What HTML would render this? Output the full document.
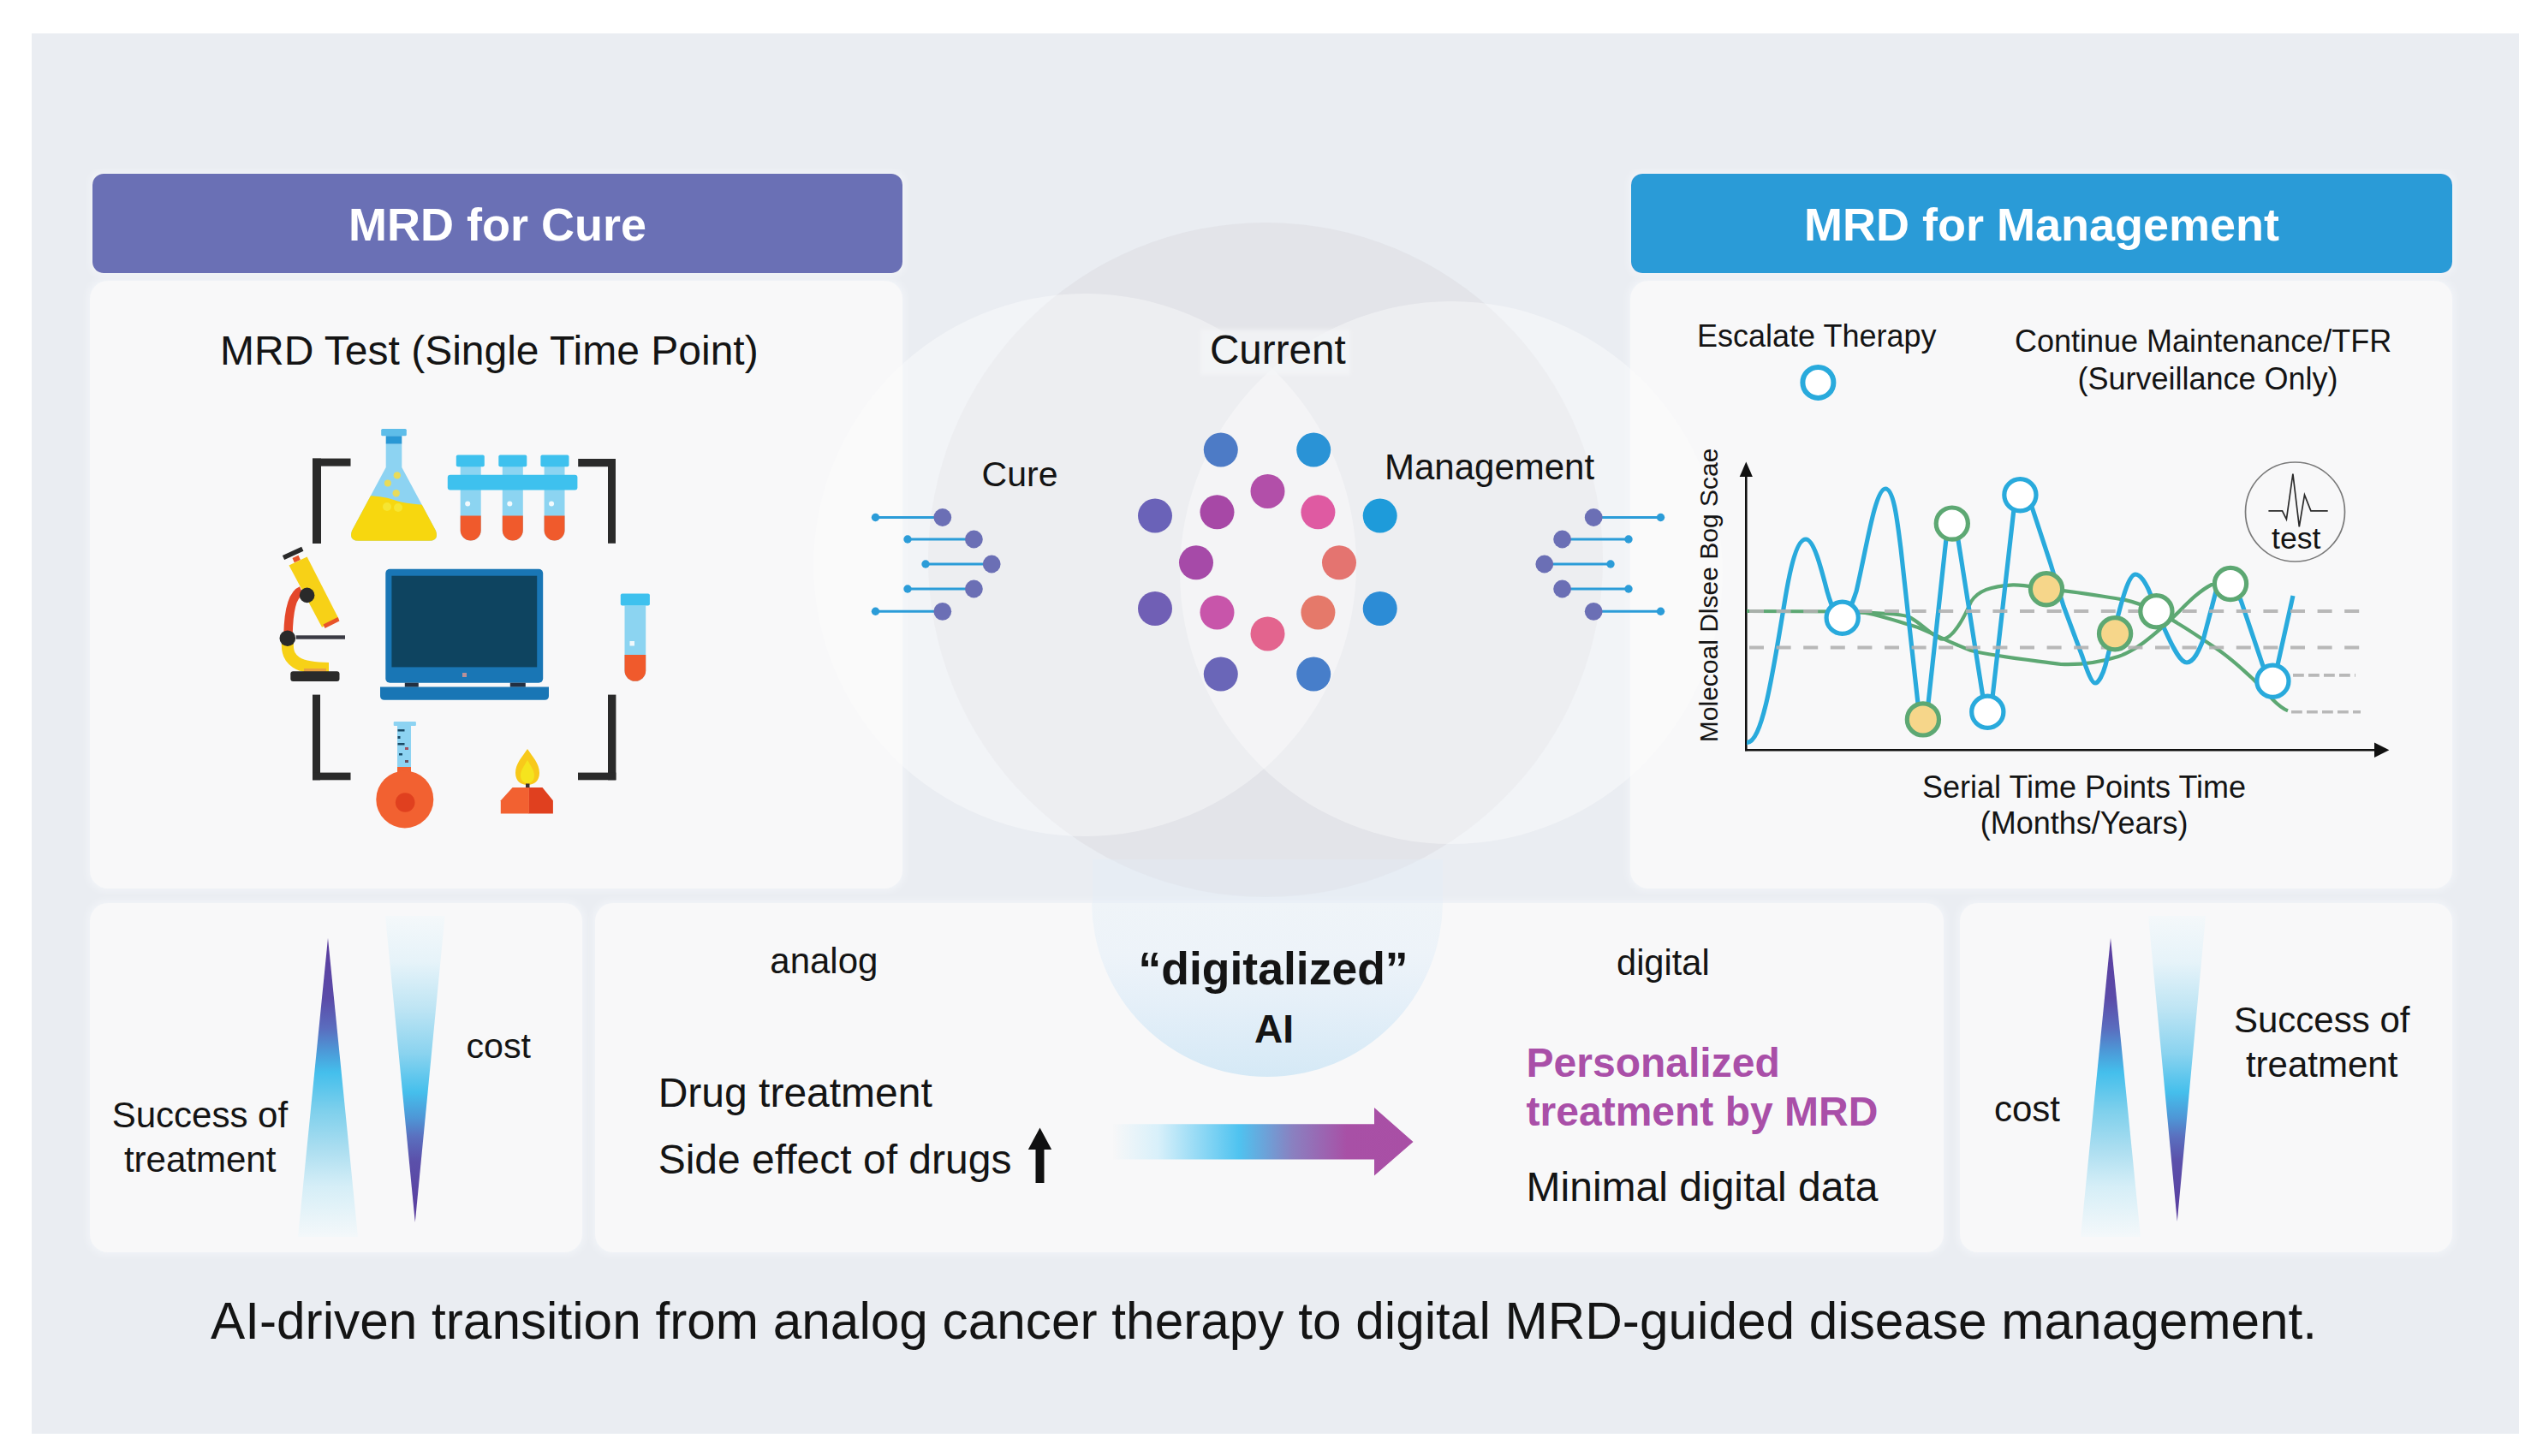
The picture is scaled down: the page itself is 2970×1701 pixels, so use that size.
<!DOCTYPE html>
<html><head><meta charset="utf-8"><title>MRD figure</title>
<style>html,body{margin:0;padding:0;background:#fff;}body{width:2970px;height:1701px;overflow:hidden;}svg{display:block;}</style>
</head><body>
<svg width="2970" height="1701" viewBox="0 0 2970 1701" font-family="Liberation Sans, Arial, sans-serif"><defs>
<filter id="cardsh" x="-5%" y="-5%" width="110%" height="110%"><feFlood flood-color="#F6F8FB" result="c"/><feMorphology in="SourceAlpha" operator="dilate" radius="2" result="d"/><feGaussianBlur in="d" stdDeviation="4" result="b"/><feComposite in="c" in2="b" operator="in" result="g"/><feComponentTransfer in="g" result="g2"><feFuncA type="linear" slope="0.7"/></feComponentTransfer><feMerge><feMergeNode in="g2"/><feMergeNode in="SourceGraphic"/></feMerge></filter>
<filter id="soften" x="0" y="0" width="2970" height="1701" filterUnits="userSpaceOnUse"><feGaussianBlur stdDeviation="0.5"/></filter>
<filter id="soft" x="-10%" y="-20%" width="120%" height="140%"><feGaussianBlur stdDeviation="2"/></filter>
<clipPath id="cardclipL"><rect x="105" y="328" width="949" height="710" rx="20"/></clipPath>
<clipPath id="cardclipR"><rect x="1904" y="328" width="960" height="710" rx="20"/></clipPath>
<clipPath id="aiclip"><rect x="1200" y="1055" width="600" height="300"/></clipPath>
<linearGradient id="aigrad" x1="0" y1="1055" x2="0" y2="1258" gradientUnits="userSpaceOnUse"><stop offset="0" stop-color="#EFF4F8"/><stop offset="0.3" stop-color="#EDF3F9"/><stop offset="0.6" stop-color="#E4EFF8"/><stop offset="1" stop-color="#D5E9F6"/></linearGradient>
<linearGradient id="gup" x1="0" y1="1096" x2="0" y2="1445" gradientUnits="userSpaceOnUse"><stop offset="0" stop-color="#5A3C9E"/><stop offset="0.2" stop-color="#5B4BA8"/><stop offset="0.3" stop-color="#5A6CBE"/><stop offset="0.38" stop-color="#4C9AD8"/><stop offset="0.45" stop-color="#44BFEC"/><stop offset="0.58" stop-color="#7FD0EC"/><stop offset="0.7" stop-color="#A9DDF0"/><stop offset="0.83" stop-color="#D5EEF7"/><stop offset="1" stop-color="#F4F8FA"/></linearGradient>
<linearGradient id="gdn" x1="0" y1="1070" x2="0" y2="1428" gradientUnits="userSpaceOnUse"><stop offset="0" stop-color="#F4F8FA"/><stop offset="0.15" stop-color="#E6F3F9"/><stop offset="0.3" stop-color="#BFE5F4"/><stop offset="0.45" stop-color="#8AD3EF"/><stop offset="0.575" stop-color="#45BFEC"/><stop offset="0.66" stop-color="#4E96D6"/><stop offset="0.72" stop-color="#5A70BF"/><stop offset="0.8" stop-color="#5B50AA"/><stop offset="1" stop-color="#5A3C9E"/></linearGradient>
<linearGradient id="garr" x1="1300" y1="0" x2="1650" y2="0" gradientUnits="userSpaceOnUse"><stop offset="0" stop-color="#F7F7F8"/><stop offset="0.15" stop-color="#D8F0FA"/><stop offset="0.42" stop-color="#4FC3F0"/><stop offset="0.6" stop-color="#8A80C0"/><stop offset="0.78" stop-color="#A850A6"/><stop offset="1" stop-color="#A94FA5"/></linearGradient>
</defs><g><rect x="0" y="0" width="2970" height="1701" fill="#ffffff"/>
<rect x="37" y="39" width="2905" height="1636" fill="#EAEDF2"/>
<circle cx="1478" cy="654" r="394" fill="#DCDDE2" fill-opacity="0.55"/>
<circle cx="1267" cy="660" r="317" fill="#FFFFFF" fill-opacity="0.38"/>
<circle cx="1695" cy="669" r="317" fill="#FFFFFF" fill-opacity="0.38"/>
<rect x="105" y="328" width="949" height="710" rx="21" fill="#F8F8F9" filter="url(#cardsh)"/>
<rect x="1904" y="328" width="960" height="710" rx="21" fill="#F8F8F9" filter="url(#cardsh)"/>
<rect x="105" y="1055" width="575" height="408" rx="21" fill="#F8F8F9" filter="url(#cardsh)"/>
<rect x="695" y="1055" width="1575" height="408" rx="21" fill="#F8F8F9" filter="url(#cardsh)"/>
<rect x="2289" y="1055" width="575" height="408" rx="21" fill="#F8F8F9" filter="url(#cardsh)"/>
<rect x="108" y="203" width="946" height="116" rx="13" fill="#6B6FB5" filter="url(#cardsh)"/>
<rect x="1905" y="203" width="959" height="116" rx="13" fill="#2A9BD7" filter="url(#cardsh)"/>
<text x="407.0" y="281.0" font-size="54" font-weight="700" fill="#FFFFFF" >MRD for Cure</text>
<text x="2107.0" y="280.5" font-size="54" font-weight="700" fill="#FFFFFF" >MRD for Management</text>
<circle cx="1267" cy="660" r="317" fill="#FFFFFF" fill-opacity="0.25" clip-path="url(#cardclipL)"/>
<circle cx="1695" cy="669" r="317" fill="#FFFFFF" fill-opacity="0.25" clip-path="url(#cardclipR)"/>
<rect x="1276" y="1004" width="409" height="52" fill="#E2EEF8" fill-opacity="0.35"/>
<circle cx="1480" cy="1053" r="205" fill="url(#aigrad)" clip-path="url(#aiclip)"/>
<rect x="365" y="535.6" width="44.5" height="9" fill="#2A2A2A"/>
<rect x="365" y="535.6" width="10" height="99.4" fill="#2A2A2A"/>
<rect x="675.2" y="536" width="43.8" height="9.2" fill="#2A2A2A"/>
<rect x="710" y="536" width="9" height="98.8" fill="#2A2A2A"/>
<rect x="365" y="811.6" width="9" height="99.7" fill="#2A2A2A"/>
<rect x="365" y="902.6" width="44.5" height="8.7" fill="#2A2A2A"/>
<rect x="710" y="811.6" width="9.4" height="99.7" fill="#2A2A2A"/>
<rect x="675" y="902.6" width="44.4" height="8.7" fill="#2A2A2A"/>
<path id="flaskbody" d="M450.7,518.6 H469.3 V546 L509,620 Q513,631.8 501,631.8 H419 Q407,631.8 411,620 L450.7,546 Z" fill="#8DD3F2"/>
<clipPath id="fclip"><path d="M450.7,518.6 H469.3 V546 L509,620 Q513,631.8 501,631.8 H419 Q407,631.8 411,620 L450.7,546 Z"/></clipPath>
<path d="M400,580 Q440,577 460,584 T520,590 V640 H400 Z" fill="#F7D70F" clip-path="url(#fclip)"/>
<circle cx="452" cy="592" r="5" fill="#F6E532"/><circle cx="465" cy="593" r="5" fill="#F6E532"/>
<circle cx="463.8" cy="555.4" r="4.2" fill="#E8DB5A"/><circle cx="452.9" cy="564.4" r="4" fill="#E8DB5A"/><circle cx="462.7" cy="576.3" r="4.2" fill="#E8DB5A"/>
<rect x="450.7" y="509.2" width="18.6" height="9.4" fill="#2A98D5"/>
<rect x="445.2" y="501" width="29.6" height="8.2" rx="1.5" fill="#5EBDE9"/>
<path d="M537.7,545 H561.7 V619.5 A12.0,12.0 0 0 1 537.7,619.5 Z" fill="#8CD4F1"/>
<path d="M537.7,602.6 H561.7 V619.5 A12.0,12.0 0 0 1 537.7,619.5 Z" fill="#F05A2C"/>
<circle cx="546.2" cy="588.5" r="3" fill="#F2FAFD"/>
<path d="M586.8,545 H610.8 V619.5 A12.0,12.0 0 0 1 586.8,619.5 Z" fill="#8CD4F1"/>
<path d="M586.8,602.6 H610.8 V619.5 A12.0,12.0 0 0 1 586.8,619.5 Z" fill="#F05A2C"/>
<circle cx="595.3" cy="588.5" r="3" fill="#F2FAFD"/>
<path d="M635.6,545 H659.5 V619.55 A11.949999999999989,11.949999999999989 0 0 1 635.6,619.55 Z" fill="#8CD4F1"/>
<path d="M635.6,602.6 H659.5 V619.55 A11.949999999999989,11.949999999999989 0 0 1 635.6,619.55 Z" fill="#F05A2C"/>
<circle cx="644.05" cy="588.5" r="3" fill="#F2FAFD"/>
<rect x="532.8" y="531.6" width="33.0" height="13.6" rx="2" fill="#3EC1EE"/>
<rect x="582.3" y="531.6" width="33.0" height="13.6" rx="2" fill="#3EC1EE"/>
<rect x="631.4" y="531.6" width="33.10000000000002" height="13.6" rx="2" fill="#3EC1EE"/>
<rect x="522.8" y="554.7" width="151.6" height="17.7" rx="3" fill="#3EC1EE"/>
<path d="M352,690 C342,694 337,712 336.5,742" stroke="#E4472A" stroke-width="10.5" fill="none"/>
<path d="M336,750 C334,772 348,781 384,781" stroke="#F7D117" stroke-width="14" fill="none"/>
<polygon points="337.5,660.4 358.6,650.4 395.9,723.5 376,732.8" fill="#F7D117"/>
<polygon points="377.5,729.5 394.5,721 396.5,725.5 379.5,734" fill="#E8542A"/>
<polygon points="341.5,652 348.5,648.7 350.8,654 343.8,657.3" fill="#E8542A"/>
<line x1="331" y1="651.5" x2="353.3" y2="641.3" stroke="#2A2A2A" stroke-width="5.5"/>
<circle cx="358.6" cy="695.4" r="8.8" fill="#2A2A2A"/>
<rect x="345.7" y="742.3" width="57.3" height="4.4" fill="#3A3A44"/>
<circle cx="335.8" cy="745.7" r="9.3" fill="#2A2A2A"/>
<rect x="355" y="781" width="26" height="4" fill="#E8A040"/>
<rect x="339.3" y="784.2" width="57.2" height="11.7" rx="3" fill="#2A2A2A"/>
<rect x="450.3" y="664.7" width="183.9" height="133" rx="5" fill="#1976B5"/>
<rect x="457.4" y="672.7" width="169.8" height="106.7" fill="#0E4460"/>
<rect x="540" y="786" width="5" height="5" fill="#B89098"/>
<rect x="472.8" y="797.7" width="16" height="5" fill="#233041"/><rect x="595.8" y="797.7" width="18" height="5" fill="#233041"/>
<path d="M444,802.4 H641 V813 Q641,817.8 636,817.8 H449 Q444,817.8 444,813 Z" fill="#1976B5"/>
<path d="M729.5,707.5 H754.2 V783.4 A12.35,12.35 0 0 1 729.5,783.4 Z" fill="#8CD4F1"/>
<path d="M729.5,765 H754.2 V783.4 A12.35,12.35 0 0 1 729.5,783.4 Z" fill="#F05A2C"/>
<rect x="724.8" y="693.5" width="34.1" height="14" rx="2" fill="#3EC1EE"/>
<rect x="735.5" y="749" width="5.5" height="5.5" fill="#F0F8FC"/>
<rect x="464" y="848" width="16" height="50" fill="#8DD3F2"/>
<rect x="464.5" y="852" width="8" height="2.5" fill="#1A4A66"/>
<rect x="464.5" y="860" width="3" height="3" fill="#1A4A66"/>
<rect x="464.5" y="868" width="8" height="2.5" fill="#1A4A66"/>
<rect x="473" y="873" width="4" height="3" fill="#A05060"/>
<rect x="466" y="880" width="4" height="2.5" fill="#1A4A66"/>
<rect x="473" y="888" width="4" height="3" fill="#6A5060"/>
<rect x="459.7" y="842.9" width="26.2" height="5.1" rx="1" fill="#8DD3F2"/>
<rect x="464" y="896" width="16" height="8" fill="#F26131"/>
<circle cx="472.8" cy="933.9" r="33.5" fill="#F26131"/>
<circle cx="473.2" cy="937.5" r="11.3" fill="#E0401F"/>
<path d="M616,875 C622,884 630,892 630,903 C630,912 624,917 616,917 C608,917 602,912 602,903 C602,892 610,884 616,875 Z" fill="#F8C91A"/>
<path d="M616,888 C620,895 624,900 624,906 C624,912 620,915 616,915 C612,915 608,912 608,906 C608,900 612,895 616,888 Z" fill="#F5E41E"/>
<rect x="614" y="915.5" width="4.5" height="5" fill="#3A3030"/>
<polygon points="617.5,920 633.5,920 645.9,935.3 645.9,950.6 617.5,950.6" fill="#E0401F"/>
<polygon points="598.6,920 617.9,920 617.9,950.6 584.8,950.6 584.8,935.3" fill="#F26131"/>
<line x1="1022.5" y1="604.5" x2="1100.8" y2="604.5" stroke="#2B9CD8" stroke-width="3"/><circle cx="1022.5" cy="604.5" r="4.7" fill="#2B9CD8"/><circle cx="1100.8" cy="604.5" r="10.4" fill="#6B6FB5"/>
<line x1="1939.5" y1="604.5" x2="1861.2" y2="604.5" stroke="#2B9CD8" stroke-width="3"/><circle cx="1939.5" cy="604.5" r="4.7" fill="#2B9CD8"/><circle cx="1861.2" cy="604.5" r="10.4" fill="#6B6FB5"/>
<line x1="1060" y1="630" x2="1137.4" y2="630" stroke="#2B9CD8" stroke-width="3"/><circle cx="1060" cy="630" r="4.7" fill="#2B9CD8"/><circle cx="1137.4" cy="630" r="10.4" fill="#6B6FB5"/>
<line x1="1902" y1="630" x2="1824.6" y2="630" stroke="#2B9CD8" stroke-width="3"/><circle cx="1902" cy="630" r="4.7" fill="#2B9CD8"/><circle cx="1824.6" cy="630" r="10.4" fill="#6B6FB5"/>
<line x1="1081" y1="659" x2="1158.2" y2="659" stroke="#2B9CD8" stroke-width="3"/><circle cx="1081" cy="659" r="4.7" fill="#2B9CD8"/><circle cx="1158.2" cy="659" r="10.4" fill="#6B6FB5"/>
<line x1="1881" y1="659" x2="1803.8" y2="659" stroke="#2B9CD8" stroke-width="3"/><circle cx="1881" cy="659" r="4.7" fill="#2B9CD8"/><circle cx="1803.8" cy="659" r="10.4" fill="#6B6FB5"/>
<line x1="1060" y1="688" x2="1137.4" y2="688" stroke="#2B9CD8" stroke-width="3"/><circle cx="1060" cy="688" r="4.7" fill="#2B9CD8"/><circle cx="1137.4" cy="688" r="10.4" fill="#6B6FB5"/>
<line x1="1902" y1="688" x2="1824.6" y2="688" stroke="#2B9CD8" stroke-width="3"/><circle cx="1902" cy="688" r="4.7" fill="#2B9CD8"/><circle cx="1824.6" cy="688" r="10.4" fill="#6B6FB5"/>
<line x1="1022.5" y1="714.3" x2="1100.8" y2="714.3" stroke="#2B9CD8" stroke-width="3"/><circle cx="1022.5" cy="714.3" r="4.7" fill="#2B9CD8"/><circle cx="1100.8" cy="714.3" r="10.4" fill="#6B6FB5"/>
<line x1="1939.5" y1="714.3" x2="1861.2" y2="714.3" stroke="#2B9CD8" stroke-width="3"/><circle cx="1939.5" cy="714.3" r="4.7" fill="#2B9CD8"/><circle cx="1861.2" cy="714.3" r="10.4" fill="#6B6FB5"/>
<circle cx="1425.8" cy="525.6" r="20" fill="#4D7BC6"/>
<circle cx="1534.2" cy="525.6" r="20" fill="#2A93D6"/>
<circle cx="1349" cy="602.6" r="20" fill="#6A62B8"/>
<circle cx="1611.7" cy="602.6" r="20" fill="#1E9BDA"/>
<circle cx="1349" cy="711" r="20" fill="#705FB5"/>
<circle cx="1611.7" cy="711" r="20" fill="#2C8CD6"/>
<circle cx="1425.8" cy="787.6" r="20" fill="#6A66B8"/>
<circle cx="1534.2" cy="787.6" r="20" fill="#477ECA"/>
<circle cx="1480.5" cy="573.9" r="20" fill="#B24FA9"/>
<circle cx="1421.5" cy="598.3" r="20" fill="#A748A6"/>
<circle cx="1539.4" cy="598.3" r="20" fill="#DF5AA2"/>
<circle cx="1397" cy="657.3" r="20" fill="#A64AA8"/>
<circle cx="1564" cy="657.3" r="20" fill="#E47470"/>
<circle cx="1421.5" cy="715.5" r="20" fill="#C855AA"/>
<circle cx="1539.4" cy="715.5" r="20" fill="#E5796A"/>
<circle cx="1480.5" cy="740.4" r="20" fill="#E3648E"/>
<line x1="2039.3" y1="555" x2="2039.3" y2="877.3" stroke="#111" stroke-width="2.6"/><polygon points="2039.3,539.5 2031.7,557 2046.9,557" fill="#111"/>
<line x1="2038" y1="876.2" x2="2775" y2="876.2" stroke="#111" stroke-width="2.6"/><polygon points="2790.4,876.2 2773,867.5 2773,884.9" fill="#111"/>
<path d="M2040,714 L2168,714.5 C2190,716 2215,726 2240,733 C2260,741 2280,752 2302,760 C2330,767 2370,771 2407,776 C2430,777 2455,773 2474,767 C2495,760 2515,742 2531,728 C2550,710 2565,692 2583,683 L2605,682" stroke="#5DA873" stroke-width="4.2" fill="none"/>
<path d="M2168,715.5 C2195,716 2215,717 2228,720 C2242,726 2255,742 2267,746.5 C2276,748 2288,735 2302,703 C2310,690 2325,685 2351,683.3 C2365,683 2380,687 2390,688.3 C2420,690 2450,696 2481,700.6 C2500,705 2512,711 2518,714 C2530,720 2540,726 2543,728 C2560,738 2580,752 2592,760 C2610,773 2620,783 2630,792 C2640,802 2648,810 2654,817 C2660,823 2666,828 2672,830.4" stroke="#5DA873" stroke-width="4.2" fill="none"/>
<path d="M2040,867.6 C2058,868 2070,790 2084,705 C2092,655 2100,630 2109,630 C2118,630 2126,660 2134,691 C2140,712 2145,721 2152,721.7 C2158,722 2163,705 2168,691 C2180,640 2190,571 2202,571 C2212,571 2216,610 2220,641 L2240,822 Q2246,852 2252,822 L2273,629 Q2280,598 2287,631 L2316,815 Q2321,845 2327,815 L2352,595 Q2358,565 2373,592 L2395,659 L2410,708 L2432,767 C2438,785 2443,798 2447,798 C2451,798 2456,788 2459,777 L2474,718 C2480,695 2487,671 2494,671 C2500,671 2505,680 2509,688 L2528,735 C2537,755 2546,774 2554,774 C2562,774 2568,760 2573,748 L2588,691 L2605,682 L2617,701 L2647,790 Q2654,806 2660,777 L2678,696" stroke="#29AADC" stroke-width="5.2" fill="none" stroke-linejoin="round"/>
<g stroke="#B0B0B0" stroke-opacity="0.9" fill="none"><g stroke-width="4" stroke-dasharray="17 14.6"><line x1="2043" y1="714" x2="2763" y2="714"/><line x1="2043" y1="756.5" x2="2760" y2="756.5"/></g><g stroke-width="3.6" stroke-dasharray="12.8 5.2"><line x1="2678" y1="788.9" x2="2751" y2="788.9"/><line x1="2676" y1="831.7" x2="2757" y2="831.7"/></g></g>
<circle cx="2151.7" cy="721.7" r="18.6" fill="#FFFFFF" stroke="#29AADC" stroke-width="5.2"/>
<circle cx="2245.9" cy="840.4" r="18.6" fill="#F6D68A" stroke="#5DA873" stroke-width="5.2"/>
<circle cx="2279.8" cy="611.6" r="18.6" fill="#FFFFFF" stroke="#5DA873" stroke-width="5.2"/>
<circle cx="2321.3" cy="831.7" r="18.6" fill="#FFFFFF" stroke="#29AADC" stroke-width="5.2"/>
<circle cx="2359.4" cy="578.2" r="18.6" fill="#FFFFFF" stroke="#29AADC" stroke-width="5.2"/>
<circle cx="2390" cy="688.3" r="18.6" fill="#F6D68A" stroke="#5DA873" stroke-width="5.2"/>
<circle cx="2470.1" cy="740.2" r="18.6" fill="#F6D68A" stroke="#5DA873" stroke-width="5.2"/>
<circle cx="2518.4" cy="714.2" r="18.6" fill="#FFFFFF" stroke="#5DA873" stroke-width="5.2"/>
<circle cx="2605" cy="682" r="18.6" fill="#FFFFFF" stroke="#5DA873" stroke-width="5.2"/>
<circle cx="2654.4" cy="795.8" r="18.6" fill="#FFFFFF" stroke="#29AADC" stroke-width="5.2"/>
<circle cx="2123.4" cy="446.9" r="18" fill="#FFFFFF" stroke="#29AADC" stroke-width="6"/>
<circle cx="2680.5" cy="598" r="58" fill="none" stroke="#7A7A7A" stroke-width="1.7"/>
<polyline points="2649.4,596.8 2665.5,596.8 2670.4,606.7 2677.9,553.5 2685.3,615.3 2691.5,578.2 2698.9,596.8 2718.7,596.8" fill="none" stroke="#2A2A2A" stroke-width="1.7" stroke-linejoin="miter"/>
<polygon points="383,1096 418,1445 348,1445" fill="url(#gup)"/>
<polygon points="2465,1096 2500,1445 2430,1445" fill="url(#gup)"/>
<polygon points="450,1070 519.6,1070 484.8,1428" fill="url(#gdn)"/>
<polygon points="2509,1070 2576,1070 2542.8,1427" fill="url(#gdn)"/>
<path d="M1300,1313.3 H1605 V1294 L1650.5,1334 L1605,1373.6 V1354.6 H1300 Z" fill="url(#garr)"/>
<path d="M1214.5,1317.4 L1228.2,1343 H1219.5 V1381.9 H1209.5 V1343 H1200.8 Z" fill="#111"/>
<text x="257.0" y="425.7" font-size="48" font-weight="400" fill="#141414" >MRD Test (Single Time Point)</text>
<rect x="1402" y="385" width="175" height="53" fill="#F4F5F7" fill-opacity="0.75" filter="url(#soft)"/>
<text x="1413.0" y="425.0" font-size="47.6" font-weight="400" fill="#141414" >Current</text>
<text x="1146.6" y="567.5" font-size="41" font-weight="400" fill="#141414" >Cure</text>
<text x="1617.0" y="560.0" font-size="42" font-weight="400" fill="#141414" >Management</text>
<text x="1982.0" y="404.8" font-size="36" font-weight="400" fill="#141414" >Escalate Therapy</text>
<text x="2353.0" y="411.0" font-size="36" font-weight="400" fill="#141414" >Continue Maintenance/TFR</text>
<text x="2426.5" y="455.0" font-size="36" font-weight="400" fill="#141414" >(Surveillance Only)</text>
<text x="2245.0" y="931.6" font-size="36" font-weight="400" fill="#141414" >Serial Time Points Time</text>
<text x="2312.8" y="974.0" font-size="36" font-weight="400" fill="#141414" >(Months/Years)</text>
<text x="2653.0" y="641.3" font-size="35.6" font-weight="400" fill="#141414" >test</text>
<text transform="translate(2006.2,867.2) rotate(-90)" x="0" y="0" font-size="30" fill="#141414">Molecoal Dlsee Bog Scae</text>
<text x="130.7" y="1316.5" font-size="42" font-weight="400" fill="#141414" >Success of</text>
<text x="144.9" y="1368.5" font-size="42" font-weight="400" fill="#141414" >treatment</text>
<text x="544.4" y="1235.8" font-size="41.2" font-weight="400" fill="#141414" >cost</text>
<text x="899.3" y="1136.7" font-size="42" font-weight="400" fill="#141414" >analog</text>
<text x="768.7" y="1293.0" font-size="48" font-weight="400" fill="#141414" >Drug treatment</text>
<text x="768.7" y="1370.5" font-size="48" font-weight="400" fill="#141414" >Side effect of drugs</text>
<text x="1329.5" y="1149.6" font-size="53.5" font-weight="700" fill="#141414" >“digitalized”</text>
<text x="1465.0" y="1218.0" font-size="46" font-weight="700" fill="#141414" >AI</text>
<text x="1888.0" y="1139.0" font-size="41.6" font-weight="400" fill="#141414" >digital</text>
<text x="1782.6" y="1258.0" font-size="48" font-weight="700" fill="#A94FA8" >Personalized</text>
<text x="1782.6" y="1314.6" font-size="48" font-weight="700" fill="#A94FA8" >treatment by MRD</text>
<text x="1782.6" y="1403.3" font-size="48" font-weight="400" fill="#141414" >Minimal digital data</text>
<text x="2328.9" y="1310.4" font-size="42" font-weight="400" fill="#141414" >cost</text>
<text x="2609.0" y="1205.6" font-size="42" font-weight="400" fill="#141414" >Success of</text>
<text x="2622.9" y="1257.5" font-size="42" font-weight="400" fill="#141414" >treatment</text>
<text x="246.0" y="1564.0" font-size="60.3" font-weight="400" fill="#141414" >AI-driven transition from analog cancer therapy to digital MRD-guided disease management.</text></g></svg>
</body></html>
